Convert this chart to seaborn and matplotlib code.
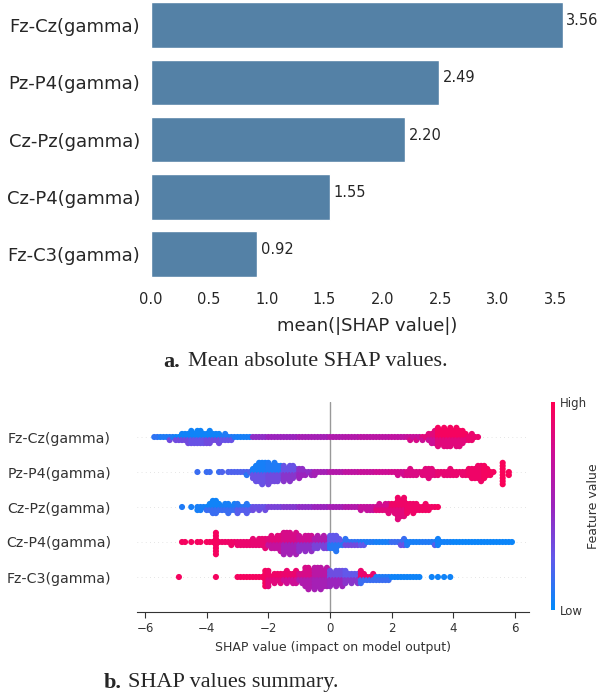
import numpy as np
import pandas as pd
import seaborn as sns
import matplotlib.pyplot as plt
from matplotlib.colors import LinearSegmentedColormap, Normalize
from matplotlib.cm import ScalarMappable

# --- data ---
features = ['Fz-Cz(gamma)', 'Pz-P4(gamma)', 'Cz-Pz(gamma)', 'Cz-P4(gamma)', 'Fz-C3(gamma)']
mean_abs_shap = [3.56, 2.49, 2.20, 1.55, 0.92]

# beeswarm: number of points in each 0.1 wide SHAP bin, first bin at *_start
fzcz_start = -5.7
fzcz_counts = [1, 1, 1, 1, 1, 2, 1, 2,
               2, 3, 3, 4, 5, 4, 5, 5, 4, 4,
               5, 3, 3, 4, 2, 3, 2, 2, 1, 1,
               1, 1, 1, 1, 1,
               1, 1, 1, 1, 1, 1, 1, 1, 1, 1, 1, 1,
               1, 1, 1, 1, 1, 1, 1, 1, 1, 1, 1, 1,
               1, 1, 1, 1, 1, 1, 1, 1, 1, 1, 1, 1, 1,
               1, 1, 1, 1, 1, 1, 1, 1, 1, 1, 1, 1, 1, 2, 1, 2, 1,
               2, 1, 3, 4, 5,
               7, 5, 7, 6, 7, 5, 7, 6, 5,
               3, 2, 3, 1, 1]
pzp4_start = -4.3
pzp4_counts = [1, 0, 0, 1, 1, 0, 0, 1, 1, 0, 1,
               1, 1, 1, 1, 1, 2, 1,
               4, 6, 7, 8, 7, 8, 6, 7,
               6, 5, 6, 4, 6,
               5, 3, 4, 3,
               2, 1, 2, 2, 1,
               1, 1, 1, 1, 1, 1, 1, 1, 1, 1, 1, 1, 1,
               1, 1, 1, 1, 1, 1, 1, 1, 1, 1, 1, 1,
               2, 1, 2, 2, 3, 2, 2, 1,
               2, 3, 4, 3, 2,
               2, 1, 2, 2, 3, 2, 2, 1, 2, 2, 3, 4,
               4, 5, 6, 5, 3, 2,
               1, 0, 0, 8, 0, 2]
czpz_start = -4.8
czpz_counts = [1, 0, 0, 1, 0,
               2, 2, 1, 2, 3,
               5, 5, 3,
               2, 3, 4, 2,
               3, 4, 2,
               2, 4, 2,
               2, 1, 2, 1, 2, 1, 1, 1, 1, 1, 1,
               1, 1, 1, 1, 1, 1, 1, 1, 1, 1,
               1, 1, 1, 1, 1, 1, 1, 1, 1, 1, 1, 1, 1, 1, 2, 1, 2, 2,
               2, 2, 3, 2, 3, 4, 3,
               4, 8, 6, 7, 4,
               3, 4, 3, 2,
               2, 3, 2, 1, 1, 1]
czp4_start = -4.8
czp4_counts = [1, 1, 0, 1, 0, 1, 1, 0, 1, 1, 1,
               8,
               1, 1, 1, 1, 2, 1, 2, 2, 2, 2,
               2, 3, 2, 3, 3, 4, 3,
               5, 4, 5, 6,
               8, 7, 8, 6, 8,
               6, 4, 6, 5, 6, 4,
               5, 3, 5, 4, 5, 5, 6, 3,
               2, 3, 2, 2, 2, 2, 2, 2,
               1, 1, 1, 1, 1, 1, 1, 1,
               1, 1, 1, 2, 3, 2, 1, 1, 1, 1,
               1, 1, 1, 1, 2, 3, 1, 1, 1, 1,
               1, 1, 1, 1, 1, 1, 1, 1, 1, 1,
               1, 1, 1, 1, 1, 1, 1, 1, 1, 1]
fzc3_start = -4.9
fzc3_counts = [1,
               0, 0, 0, 0, 0, 0, 0, 0, 0, 0, 0,
               1,
               0, 0, 0, 0, 0, 0,
               1, 1, 1, 1, 1, 1, 1, 1, 1,
               6, 6, 2,
               4, 3, 4, 3,
               5, 3, 4, 5, 3, 4,
               7, 8, 6, 8, 7, 8, 6, 7,
               6, 4, 6, 5, 6, 5,
               3, 4, 3, 4, 5, 3,
               2, 2, 3, 2, 2, 2, 2, 2, 1, 1, 1, 1, 1, 1, 1, 1, 1, 1,
               0, 0, 0, 1, 0, 1, 0, 1, 0, 1]

# feature value (0 = low, 1 = high) per 0.5 wide SHAP bin from -6 to 6,
# two shades that alternate inside a bin
fzcz_hue_a = [0.12, 0.08, 0.04, 0.04, 0.04, 0.08, 0.06, 0.45, 0.50, 0.50, 0.55, 0.55,
              0.60, 0.62, 0.65, 0.66, 0.68, 0.72, 0.85, 0.95, 0.95, 0.90, 0.90, 0.90]
fzcz_hue_b = [0.30, 0.32, 0.32, 0.28, 0.32, 0.28, 0.10, 0.45, 0.50, 0.50, 0.55, 0.55,
              0.60, 0.62, 0.65, 0.66, 0.68, 0.80, 0.75, 0.85, 0.85, 0.90, 0.90, 0.90]
pzp4_hue_a = [0.05, 0.05, 0.05, 0.15, 0.15, 0.20, 0.20, 0.06, 0.08, 0.28, 0.45, 0.55,
              0.62, 0.68, 0.72, 0.75, 0.78, 0.82, 0.85, 0.88, 0.90, 0.92, 0.95, 0.97]
pzp4_hue_b = [0.05, 0.05, 0.05, 0.15, 0.15, 0.20, 0.10, 0.28, 0.32, 0.42, 0.50, 0.55,
              0.62, 0.68, 0.72, 0.75, 0.78, 0.82, 0.85, 0.88, 0.90, 0.92, 0.95, 0.97]
czpz_hue_a = [0.05, 0.05, 0.08, 0.06, 0.04, 0.06, 0.10, 0.28, 0.35, 0.40, 0.45, 0.50,
              0.55, 0.62, 0.70, 0.78, 0.92, 0.92, 0.93, 0.95, 0.95, 0.95, 0.95, 0.95]
czpz_hue_b = [0.05, 0.05, 0.08, 0.06, 0.15, 0.15, 0.22, 0.30, 0.35, 0.40, 0.45, 0.50,
              0.55, 0.62, 0.70, 0.85, 0.85, 0.92, 0.93, 0.95, 0.95, 0.95, 0.95, 0.95]
czp4_hue_a = [0.95, 0.95, 0.95, 0.95, 0.95, 0.92, 0.90, 0.88, 0.85, 0.80, 0.75, 0.60,
              0.25, 0.12, 0.08, 0.06, 0.15, 0.06, 0.08, 0.05, 0.03, 0.03, 0.03, 0.03]
czp4_hue_b = [0.95, 0.95, 0.95, 0.95, 0.95, 0.92, 0.90, 0.88, 0.70, 0.55, 0.45, 0.35,
              0.10, 0.32, 0.25, 0.08, 0.28, 0.08, 0.22, 0.05, 0.03, 0.03, 0.03, 0.03]
fzc3_hue_a = [0.95, 0.95, 0.95, 0.95, 0.95, 0.95, 0.95, 0.95, 0.92, 0.90, 0.80, 0.65,
              0.30, 0.25, 0.90, 0.08, 0.04, 0.04, 0.04, 0.04, 0.04, 0.04, 0.04, 0.04]
fzc3_hue_b = [0.95, 0.95, 0.95, 0.95, 0.95, 0.95, 0.95, 0.95, 0.85, 0.75, 0.60, 0.55,
              0.50, 0.42, 0.15, 0.15, 0.06, 0.04, 0.04, 0.04, 0.04, 0.04, 0.04, 0.04]

# --- long table for the swarm ---
starts = [fzcz_start, pzp4_start, czpz_start, czp4_start, fzc3_start]
counts = [fzcz_counts, pzp4_counts, czpz_counts, czp4_counts, fzc3_counts]
hues_a = [fzcz_hue_a, pzp4_hue_a, czpz_hue_a, czp4_hue_a, fzc3_hue_a]
hues_b = [fzcz_hue_b, pzp4_hue_b, czpz_hue_b, czp4_hue_b, fzc3_hue_b]

rows = []
for name, start, cnt, ha, hb in zip(features, starts, counts, hues_a, hues_b):
    for i, n in enumerate(cnt):
        x = round(start + 0.1 * i, 1)
        k = int(np.floor((x + 6.0) / 0.5 + 1e-9))
        for j in range(n):
            rows.append((name, x, ha[k] if j % 2 == 0 else hb[k]))
df = pd.DataFrame(rows, columns=['feature', 'shap', 'value'])

red_blue = LinearSegmentedColormap.from_list(
    'shap_red_blue', ['#008bfb', '#6258ea', '#9b24bd', '#cc0e96', '#ff0052'])

sns.set_style('white')
plt.rcParams['font.family'] = ['DejaVu Sans']

fig = plt.figure(figsize=(6.03, 7.0), dpi=100)
W, H = 603, 700

# --- a. mean |SHAP| bars ---
ax1 = fig.add_axes([151 / W, 1 - 282.6 / H, 432.5 / W, 286 / H])
sns.barplot(x=mean_abs_shap, y=features, color='steelblue', ax=ax1)
for i, v in enumerate(mean_abs_shap):
    ax1.text(v + 0.03, i - 0.08, f'{v:.2f}', va='center', ha='left', fontsize=10.5, color='.15')
ax1.set_xlim(0, 3.74)
ax1.set_ylim(4.5, -0.5)
ax1.set_xticks([0, 0.5, 1.0, 1.5, 2.0, 2.5, 3.0, 3.5])
ax1.tick_params(axis='x', labelsize=10.5, pad=7, length=0)
ax1.tick_params(axis='y', labelsize=13, pad=8, length=0)
ax1.set_xlabel('mean(|SHAP value|)', fontsize=13, labelpad=7)
ax1.set_ylabel('')
sns.despine(ax=ax1, left=True, bottom=True)

fig.text(163 / W, 1 - 362 / H, 'a.', family='Liberation Serif', weight='bold',
         fontsize=16, va='center', ha='left')
fig.text(188 / W, 1 - 362 / H, 'Mean absolute SHAP values.', family='Liberation Serif',
         fontsize=16, va='center', ha='left')

# --- b. SHAP beeswarm ---
ax2 = fig.add_axes([137.3 / W, 1 - 612 / H, 391.6 / W, 210 / H])
for i in range(len(features)):
    ax2.axhline(i, color='#cccccc', lw=0.5, dashes=(1, 5), zorder=-1)
ax2.axvline(0, color='#999999', lw=1, zorder=-1)
# small layout size: each 0.1 bin stacks into its own column
sns.swarmplot(data=df, x='shap', y='feature', order=features, hue='value',
              palette=red_blue, hue_norm=(0, 1), size=2.1, linewidth=0,
              legend=False, ax=ax2, warn_thresh=1)
ax2.set_xlim(-6.25, 6.45)
ax2.set_ylim(5, -1)
ax2.set_xticks([-6, -4, -2, 0, 2, 4, 6])
for s in ['top', 'right', 'left']:
    ax2.spines[s].set_visible(False)
ax2.spines['bottom'].set_color('#333333')
ax2.tick_params(axis='x', labelsize=8.5, colors='#333333', length=4, width=0.8, direction='out', bottom=True)
ax2.tick_params(axis='y', labelsize=10.2, colors='#333333', length=0, pad=19)
ax2.set_xlabel('SHAP value (impact on model output)', fontsize=9, color='#333333')
ax2.set_ylabel('')

cax = fig.add_axes([551 / W, 1 - 610 / H, 3.5 / W, 208 / H])
cb = fig.colorbar(ScalarMappable(norm=Normalize(0, 1), cmap=red_blue), cax=cax, ticks=[0, 1])
cb.set_ticklabels(['Low', 'High'])
cb.outline.set_visible(False)
cax.tick_params(length=0, labelsize=8.5, colors='#333333', pad=4)
cb.set_label('Feature value', size=9, labelpad=0, color='#333333')

fig.text(104 / W, 1 - 683 / H, 'b.', family='Liberation Serif', weight='bold',
         fontsize=16, va='center', ha='left')
fig.text(128 / W, 1 - 683 / H, 'SHAP values summary.', family='Liberation Serif',
         fontsize=16, va='center', ha='left')

# let seaborn lay the swarm out once, then fatten the dots so they overlap like shap's
fig.canvas.draw()
for coll in ax2.collections:
    if 'draw' in vars(coll):
        del coll.draw
        coll.set_sizes([4.4 ** 2])

fig.savefig('out.png', dpi=100)
